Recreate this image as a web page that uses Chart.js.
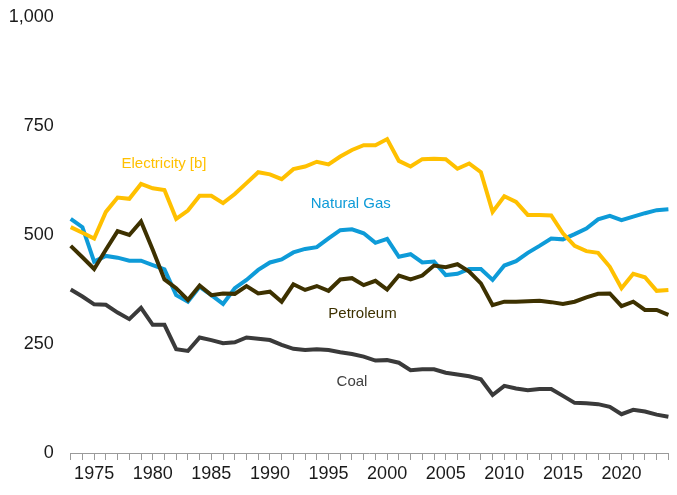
<!DOCTYPE html>
<html>
<head>
<meta charset="utf-8">
<script src="https://cdn.jsdelivr.net/npm/chart.js@4/dist/chart.umd.min.js"></script>
<style>
  html, body { margin: 0; padding: 0; background: #ffffff; }
  canvas { display: block; }
</style>
</head>
<body>
<canvas id="c" width="677" height="495"></canvas>
<script>
const years = [1973, 1974, 1975, 1976, 1977, 1978, 1979, 1980, 1981, 1982, 1983, 1984, 1985, 1986,
  1987, 1988, 1989, 1990, 1991, 1992, 1993, 1994, 1995, 1996, 1997, 1998, 1999,
  2000, 2001, 2002, 2003, 2004, 2005, 2006, 2007, 2008, 2009, 2010, 2011, 2012,
  2013, 2014, 2015, 2016, 2017, 2018, 2019, 2020, 2021, 2022, 2023, 2024];

const electricity = [518, 505, 492, 553, 586, 583, 617, 607, 603, 537, 556, 590, 590, 573,
  594, 619, 644, 639, 628, 651, 657, 668, 662, 680, 695, 706, 706,
  720, 670, 657, 674, 675, 674, 652, 664, 644, 553, 589, 576, 546,
  546, 545, 504, 475, 463, 459, 427, 378, 411, 403, 372, 374];

const naturalGas = [537, 518, 439, 452, 448, 441, 441, 431, 421, 362, 347, 381, 362, 342,
  378, 397, 420, 437, 444, 460, 468, 472, 492, 511, 513, 504, 482,
  491, 450, 456, 437, 439, 408, 411, 422, 422, 397, 430, 440, 459,
  475, 492, 490, 502, 515, 536, 544, 534, 542, 550, 557, 559];

const petroleum = [475, 449, 422, 466, 509, 500, 531, 466, 398, 378, 351, 384, 362, 366,
  365, 383, 366, 370, 347, 387, 374, 383, 372, 398, 401, 385, 395,
  375, 407, 398, 407, 430, 426, 433, 416, 389, 339, 347, 347, 348,
  349, 346, 342, 347, 357, 365, 366, 337, 347, 328, 328, 317];

const coal = [375, 359, 341, 340, 322, 307, 333, 294, 294, 238, 234, 265, 259, 252,
  254, 265, 262, 259, 248, 239, 236, 238, 236, 231, 227, 221, 212,
  213, 207, 190, 192, 192, 184, 180, 176, 169, 133, 154, 148, 144,
  147, 147, 131, 115, 114, 112, 106, 89, 99, 95, 88, 83];

const yTicks = [0, 250, 500, 750, 1000];

const COLORS = {
  electricity: '#FFC000',
  gas: '#0E9BD8',
  petroleum: '#3D3100',
  coal: '#3A3A3A'
};

// Series name labels: [text, x (category index), y (value), color]
const seriesLabels = [
  ['Electricity [b]', 7.96, 663, COLORS.electricity],
  ['Natural Gas', 23.9, 571, COLORS.gas],
  ['Petroleum', 24.9, 320, COLORS.petroleum],
  ['Coal', 24.0, 163, '#404040']
];

const FONT = '"Liberation Sans", Arial, Helvetica, sans-serif';

const labelPlugin = {
  id: 'seriesLabels',
  afterDatasetsDraw(chart) {
    const ctx = chart.ctx;
    const xs = chart.scales.x, ys = chart.scales.y;
    ctx.save();
    ctx.font = '15px ' + FONT;
    ctx.textAlign = 'center';
    ctx.textBaseline = 'middle';
    seriesLabels.forEach(([t, xi, v, col]) => {
      ctx.fillStyle = col;
      ctx.fillText(t, xs.getPixelForValue(xi), ys.getPixelForValue(v));
    });
    ctx.restore();
  }
};

function ds(label, data, color) {
  return {
    label, data,
    borderColor: color,
    backgroundColor: color,
    borderWidth: 4,
    pointRadius: 0,
    pointHoverRadius: 0,
    tension: 0,
    fill: false
  };
}

new Chart(document.getElementById('c'), {
  type: 'line',
  data: {
    labels: years.map(String),
    datasets: [
      ds('Electricity [b]', electricity, COLORS.electricity),
      ds('Petroleum', petroleum, COLORS.petroleum),
      ds('Natural Gas', naturalGas, COLORS.gas),
      ds('Coal', coal, COLORS.coal)
    ]
  },
  options: {
    responsive: false,
    animation: false,
    devicePixelRatio: 1,
    layout: { padding: { top: 17, right: 8.6, bottom: 0, left: 0 } },
    plugins: {
      legend: { display: false },
      tooltip: { enabled: false },
      title: { display: false }
    },
    scales: {
      x: {
        type: 'category',
        offset: false,
        grid: {
          display: true,
          drawOnChartArea: false,
          drawTicks: true,
          tickLength: 7,
          color: '#9a9a9a',
          lineWidth: 1
        },
        border: { display: true, color: '#9a9a9a', width: 1 },
        ticks: {
          autoSkip: false,
          maxRotation: 0,
          minRotation: 0,
          padding: 3,
          color: '#1a1a1a',
          font: { family: FONT, size: 18 },
          callback: function (val, idx) {
            const y = years[idx];
            return (y % 5 === 0) ? String(y) : '';
          }
        },
        afterFit(scale) { scale.height = 42; }
      },
      y: {
        min: 0,
        max: 1000,
        afterBuildTicks(scale) { scale.ticks = yTicks.map(v => ({ value: v })); },
        grid: { display: false, drawTicks: true, tickLength: 17 },
        border: { display: false },
        ticks: {
          padding: 0,
          color: '#1a1a1a',
          font: { family: FONT, size: 18 },
          callback: v => v.toLocaleString('en-US')
        },
        afterFit(scale) { scale.width = 70.7; }
      }
    }
  },
  plugins: [labelPlugin]
});
</script>
</body>
</html>
